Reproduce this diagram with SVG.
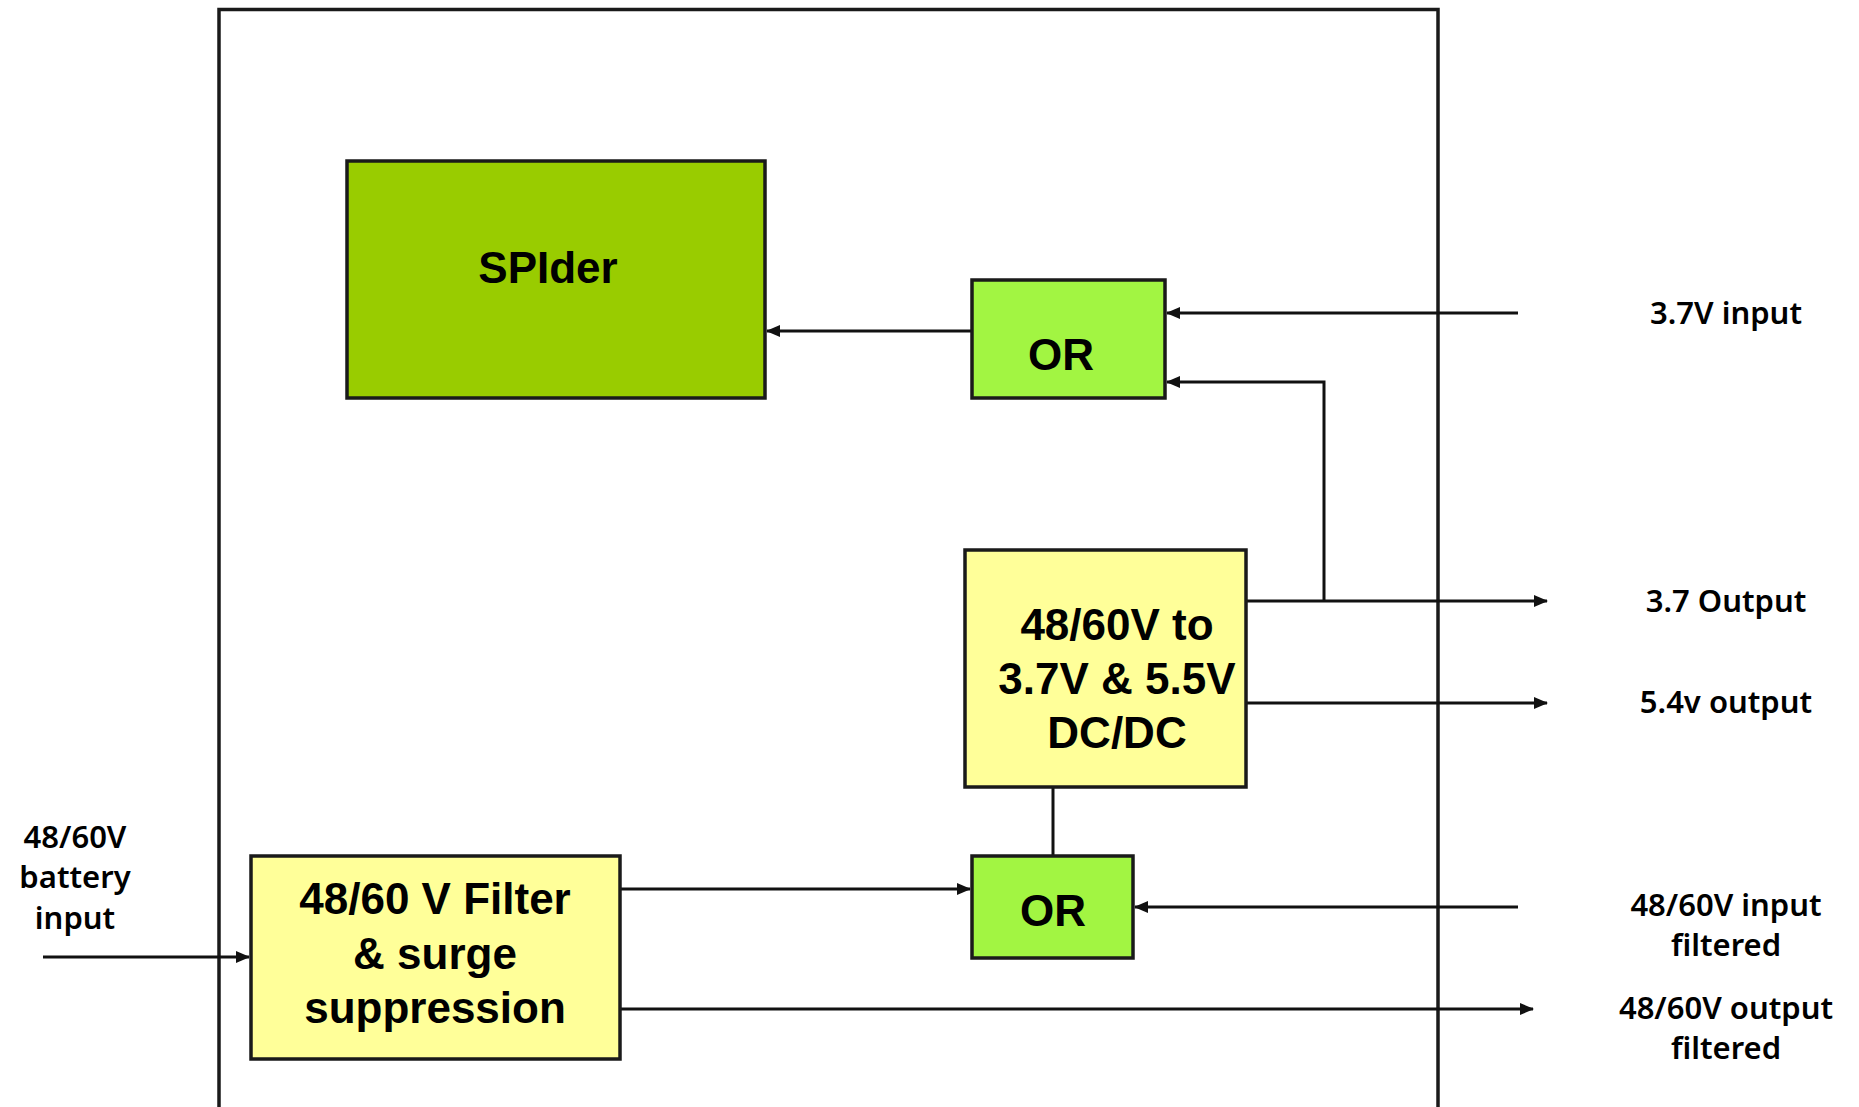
<svg xmlns="http://www.w3.org/2000/svg" width="1859" height="1107" viewBox="0 0 1859 1107">
<style>
.box{stroke:#1a1a1a;stroke-width:3.5}
.bt{font-family:"Liberation Sans",Arial,sans-serif;font-weight:bold;font-size:44px;fill:#000;text-anchor:middle}
.lb{font-family:"Noto Sans","Open Sans",sans-serif;font-weight:600;font-size:31px;fill:#000;text-anchor:middle}
.ln{stroke:#111;stroke-width:3;fill:none}
</style>
<defs>
<marker id="ah" markerUnits="userSpaceOnUse" markerWidth="14" markerHeight="12" refX="13" refY="6" orient="auto">
<path d="M0,0 L14,6 L0,12 Z" fill="#111"/>
</marker>
</defs>
<rect width="1859" height="1107" fill="#fff"/>
<rect id="frame" x="219" y="9.5" width="1219" height="1100" fill="none" stroke="#1a1a1a" stroke-width="3.5"/>
<g id="connectors">
<path class="ln" d="M972,331 H767" marker-end="url(#ah)"/>
<path class="ln" d="M1518,313 H1167" marker-end="url(#ah)"/>
<path class="ln" d="M1324,601 V382 H1167" marker-end="url(#ah)"/>
<path class="ln" d="M1246,601 H1547" marker-end="url(#ah)"/>
<path class="ln" d="M1246,703 H1547" marker-end="url(#ah)"/>
<path class="ln" d="M1053,787 V856"/>
<path class="ln" d="M620,889 H970" marker-end="url(#ah)"/>
<path class="ln" d="M1518,907 H1135" marker-end="url(#ah)"/>
<path class="ln" d="M620,1009 H1533" marker-end="url(#ah)"/>
<path class="ln" d="M43,957 H249" marker-end="url(#ah)"/>
</g>
<g id="spider">
<rect class="box" x="347" y="161" width="418" height="237" fill="#99CC00"/>
<text class="bt" x="548" y="283">SPIder</text>
</g>
<g id="or-top">
<rect class="box" x="972" y="280" width="193" height="118" fill="#A2F542"/>
<text class="bt" x="1061" y="370">OR</text>
</g>
<g id="dcdc">
<rect class="box" x="965" y="550" width="281" height="237" fill="#FFFF99"/>
<text class="bt" x="1117" y="640">48/60V to</text>
<text class="bt" x="1117" y="694">3.7V &amp; 5.5V</text>
<text class="bt" x="1117" y="748">DC/DC</text>
</g>
<g id="or-bottom">
<rect class="box" x="972" y="856" width="161" height="102" fill="#A2F542"/>
<text class="bt" x="1053" y="926">OR</text>
</g>
<g id="filter">
<rect class="box" x="251" y="856" width="369" height="203" fill="#FFFF99"/>
<text class="bt" x="435" y="914">48/60 V Filter</text>
<text class="bt" x="435" y="969">&amp; surge</text>
<text class="bt" x="435" y="1023">suppression</text>
</g>
<g id="labels">
<text class="lb" x="1726" y="324">3.7V input</text>
<text class="lb" x="1726" y="612">3.7 Output</text>
<text class="lb" x="1726" y="713">5.4v output</text>
<text class="lb" x="1726" y="916">48/60V input</text>
<text class="lb" x="1726" y="956">filtered</text>
<text class="lb" x="1726" y="1019">48/60V output</text>
<text class="lb" x="1726" y="1059">filtered</text>
<text class="lb" x="75" y="848">48/60V</text>
<text class="lb" x="75" y="888">battery</text>
<text class="lb" x="75" y="929">input</text>
</g>
</svg>
